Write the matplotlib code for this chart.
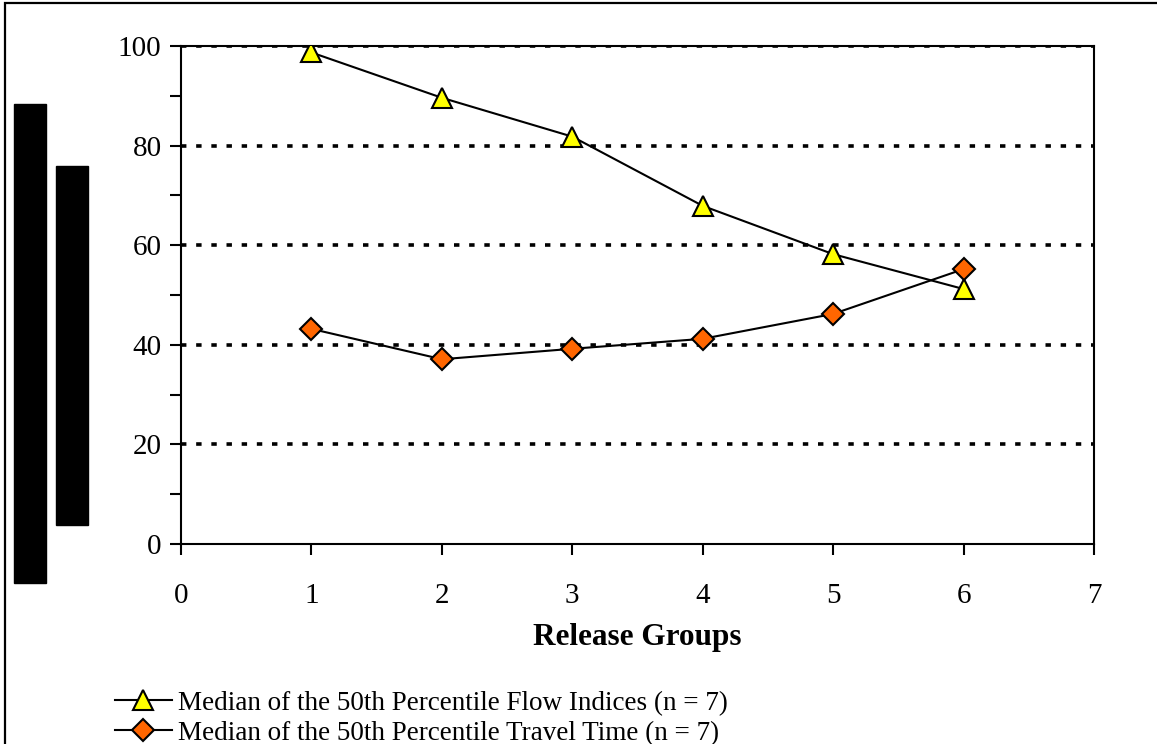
import matplotlib.pyplot as plt
from matplotlib.patches import Rectangle

# data
groups = [1, 2, 3, 4, 5, 6]
flow_idx = [98.7, 89.6, 81.8, 67.9, 58.2, 51.2]
travel_time = [43.2, 37.1, 39.2, 41.2, 46.2, 55.2]
lbl_flow = "Median of the 50th Percentile Flow Indices (n = 7)"
lbl_travel = "Median of the 50th Percentile Travel Time (n = 7)"

W, H = 1157, 744
plt.rcParams['font.family'] = ['Liberation Serif', 'DejaVu Serif']
fig = plt.figure(figsize=(W/100, H/100), dpi=100)
ax = fig.add_axes([181/W, 1-544/H, (1094-181)/W, (544-46)/H])

# grid lines, dotted
for yv in [20, 40, 60, 80, 100]:
    ax.axhline(yv, color='black', lw=2.6, ls=(0, (1.5, 2.7)), zorder=1)

ax.plot(groups, flow_idx, color='black', lw=1.5, marker='^', ms=14,
        mfc='#FFFF00', mec='black', mew=1.5, label=lbl_flow, zorder=3)
ax.plot(groups, travel_time, color='black', lw=1.5, marker='D', ms=11,
        mfc='#FF6600', mec='black', mew=1.5, label=lbl_travel, zorder=3)

ax.set_xlim(0, 7)
ax.set_ylim(0, 100)
ax.set_xticks(range(0, 8))
ax.set_yticks(range(0, 101, 20))
ax.set_yticks(range(10, 100, 20), minor=True)
ax.tick_params(axis='both', which='both', direction='out', length=8, width=1.5,
               labelsize=21, colors='black')
ax.tick_params(axis='x', pad=20)
ax.tick_params(axis='y', pad=6)
for sp in ax.spines.values():
    sp.set_linewidth(1.5)
ax.set_xlabel("Release Groups", fontsize=22.5, fontweight='bold', labelpad=10)

leg = fig.legend(loc='upper left', bbox_to_anchor=(104/W, 1-680/H), frameon=False,
                 fontsize=19.5, handlelength=2.1, handletextpad=0.25, labelspacing=0.18,
                 borderaxespad=0)

# redacted blocks and frame
fig.patches.append(Rectangle((14/W, 1-583/H), 32/W, 479/H, transform=fig.transFigure,
                             color='black', figure=fig))
fig.patches.append(Rectangle((56/W, 1-525/H), 32/W, 359/H, transform=fig.transFigure,
                             color='black', figure=fig))
fig.patches.append(Rectangle((5/W, -0.1), 1.2, 1 - 3/H + 0.1, transform=fig.transFigure,
                             fill=False, ec='black', lw=1.6, figure=fig))

fig.savefig("out.png", dpi=100)
